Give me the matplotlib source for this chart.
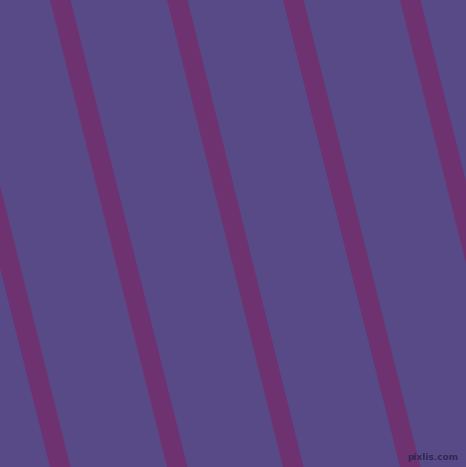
import matplotlib
matplotlib.use("Agg")
import matplotlib.pyplot as plt
import numpy as np

# stripe left edges where they cross the top row (pixels), and where they reach the bottom
stripe_top = [-67, 50, 167, 283, 400]
stripe_bottom = [50, 167, 283, 400, 517]
stripe_width = 20.5

bg_color = "#574a86"
stripe_color = "#6e3271"

fig = plt.figure(figsize=(4.66, 4.67), dpi=100)
fig.patch.set_facecolor(bg_color)
ax = fig.add_axes([0, 0, 1, 1])
ax.set_facecolor(bg_color)

y = np.array([0, 467])
for x0, x1 in zip(stripe_top, stripe_bottom):
    left = np.array([x0, x1])
    ax.fill_betweenx(y, left, left + stripe_width, color=stripe_color, linewidth=0)

ax.text(458, 458, "pixlis.com", fontsize=6.5, color="#2f2852",
        ha="right", va="center", fontweight="bold")

ax.set_xlim(0, 466)
ax.set_ylim(467, 0)
ax.axis("off")
fig.savefig("out.png", dpi=100, facecolor=bg_color)
